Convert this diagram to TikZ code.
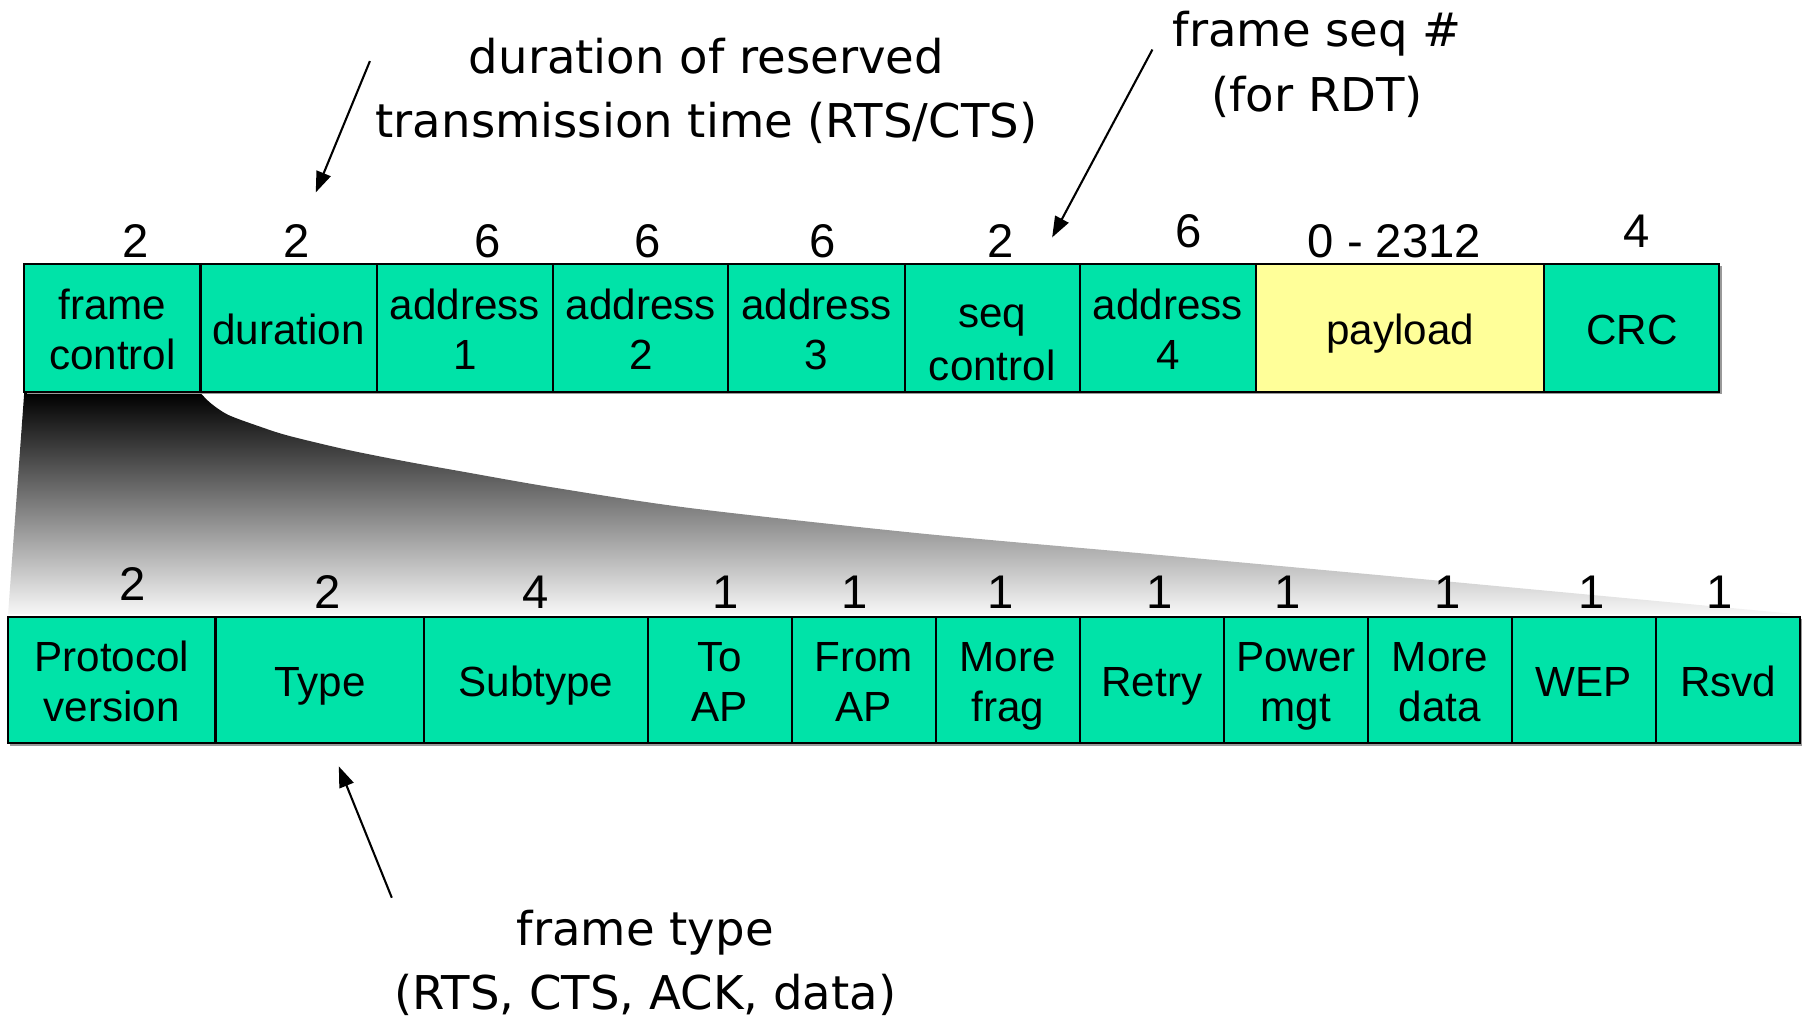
\documentclass[tikz,border=0pt]{standalone}
\usepackage{fontspec}
\setmainfont{Liberation Sans}
\newfontfamily\notefont{DejaVu Sans}
\usetikzlibrary{arrows.meta}
\definecolor{fieldgreen}{RGB}{0,227,168}
\definecolor{payloadyellow}{RGB}{255,255,153}
% line strut for field labels
\newcommand\fstrut{\rule[-3.45pt]{0pt}{21.5pt}}
% one field of a frame: [options]{name}{x1}{y1}{x2}{y2}{text}
\newcommand\fieldcell[7][]{%
  \node[fieldbox,#1,minimum width={(#5-#3)*0.5pt},minimum height={(#6-#4)*0.5pt}]
    (#2) at ({(#3+#5)/2},{(#4+#6)/2}) {#7};}
\begin{document}
\begin{tikzpicture}[x=0.5pt,y=-0.5pt,
  fieldbox/.style={draw=black, line width=0.9pt, fill=fieldgreen, inner sep=0pt,
    align=center, font=\fontsize{18.3}{21.5}\selectfont},
  rowshadow/.style={fill=black!40},
  sizelabel/.style={inner sep=0pt, font=\fontsize{20.5}{24}\selectfont},
  note/.style={inner sep=0pt, align=center, font=\notefont\fontsize{20.2}{28}\selectfont},
  pointer/.style={line width=0.9pt, -{Triangle[length=9pt,width=6.5pt]}}]
\useasboundingbox (0,0) rectangle (1568,894);

% zoom wedge from the frame control field down to its sub-fields
\shade[top color=black, bottom color=black!3]
  (21,341) -- plot[smooth, tension=0.5] coordinates {
    (174,341) (183,350) (198,360) (225,370) (250,378) (300,390) (350,400)
    (400,409) (480,423) (600,441) (800,463) (1000,481) (1250,504) (1560,533)}
  -- (7,533) -- cycle;

% soft shadows under both rows
\fill[rowshadow] (23,231) rectangle (1494,342);
\fill[rowshadow] (9,537) rectangle (1564,647);

% 802.11 frame fields
\fieldcell{fc}{21}{229}{174}{340}{\fstrut frame\\\fstrut control}
\fieldcell{dur}{174}{229}{327}{340}{\fstrut duration}
\fieldcell{ad1}{327}{229}{480}{340}{\fstrut address\\\fstrut 1}
\fieldcell{ad2}{480}{229}{632}{340}{\fstrut address\\\fstrut 2}
\fieldcell{ad3}{632}{229}{785}{340}{\fstrut address\\\fstrut 3}
\fieldcell{seq}{785}{229}{937}{340}{\rule{0pt}{26pt}seq\\\fstrut control}
\fieldcell{ad4}{937}{229}{1090}{340}{\fstrut address\\\fstrut 4}
\fieldcell[fill=payloadyellow]{pay}{1090}{229}{1340}{340}{\fstrut payload}
\fieldcell{crc}{1340}{229}{1492}{340}{\fstrut CRC}

% field sizes in bytes
\node[sizelabel] (sfc)  at (118,209)  {2};
\node[sizelabel] (sdur) at (257,209)  {2};
\node[sizelabel] (sad1) at (423,209)  {6};
\node[sizelabel] (sad2) at (562,209)  {6};
\node[sizelabel] (sad3) at (714,209)  {6};
\node[sizelabel] (sseq) at (868,209)  {2};
\node[sizelabel] (sad4) at (1031,201) {6};
\node[sizelabel] (spay) at (1210,209) {0 - 2312};
\node[sizelabel] (scrc) at (1420,201) {4};

% frame control sub-fields
\fieldcell{pv}{7}{535}{187}{645}{\fstrut Protocol\\\fstrut version}
\fieldcell{typ}{187}{535}{368}{645}{\fstrut Type}
\fieldcell{sub}{368}{535}{562}{645}{\fstrut Subtype}
\fieldcell{toap}{562}{535}{687}{645}{\fstrut To\\\fstrut AP}
\fieldcell{frap}{687}{535}{812}{645}{\fstrut From\\\fstrut AP}
\fieldcell{mfr}{812}{535}{937}{645}{\fstrut More\\\fstrut frag}
\fieldcell{rty}{937}{535}{1062}{645}{\fstrut Retry}
\fieldcell{pwr}{1062}{535}{1187}{645}{\fstrut Power\\\fstrut mgt}
\fieldcell{mda}{1187}{535}{1312}{645}{\fstrut More\\\fstrut data}
\fieldcell{wep}{1312}{535}{1437}{645}{\fstrut WEP}
\fieldcell{rsv}{1437}{535}{1562}{645}{\fstrut Rsvd}

% sub-field sizes in bits
\node[sizelabel] (spv)   at (115,507)  {2};
\node[sizelabel] (styp)  at (284,514)  {2};
\node[sizelabel] (ssub)  at (465,514)  {4};
\node[sizelabel] (stoap) at (630,514)  {1};
\node[sizelabel] (sfrap) at (742,514)  {1};
\node[sizelabel] (smfr)  at (868,514)  {1};
\node[sizelabel] (srty)  at (1006,514) {1};
\node[sizelabel] (spwr)  at (1117,514) {1};
\node[sizelabel] (smda)  at (1256,514) {1};
\node[sizelabel] (swep)  at (1381,514) {1};
\node[sizelabel] (srsv)  at (1492,514) {1};

% annotations
\node[note] (durnote) at (613,79)    {duration of reserved\\transmission time (RTS/CTS)};
\node[note] (seqnote) at (1143,56)   {frame seq \#\\(for RDT)};
\node[note] (typnote) at (560,835.5) {frame type\\(RTS, CTS, ACK, data)};

\coordinate (durtail) at (321,53);
\coordinate (durtip)  at (274,167);
\coordinate (seqtail) at (1000,43);
\coordinate (seqtip)  at (913,206);
\coordinate (typtail) at (340,779);
\coordinate (typtip)  at (294,665);
\draw[pointer] (durtail) -- (durtip);
\draw[pointer] (seqtail) -- (seqtip);
\draw[pointer] (typtail) -- (typtip);
\end{tikzpicture}
\end{document}
